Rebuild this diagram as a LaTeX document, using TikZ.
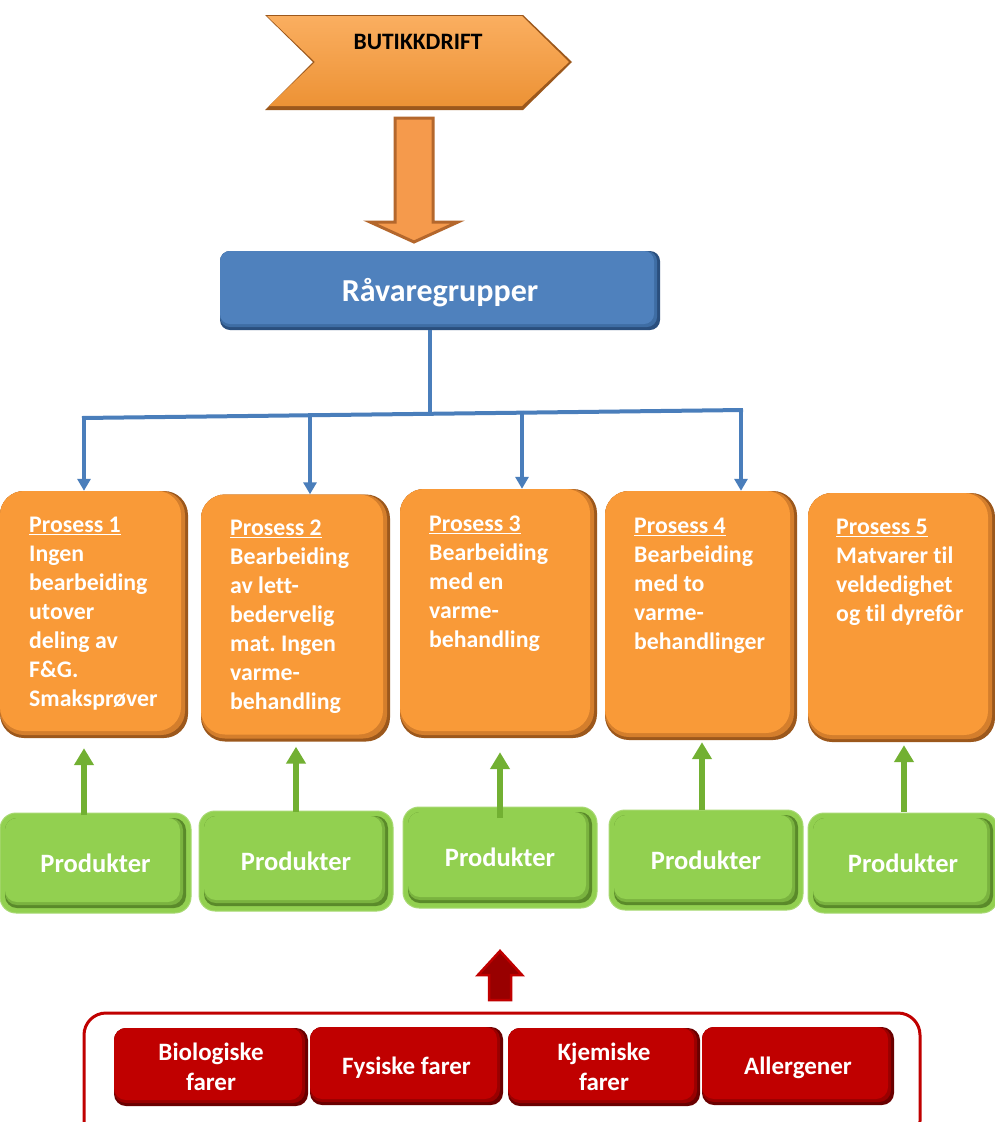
\documentclass[tikz,border=0pt]{standalone}
\usepackage{fontspec}
\setmainfont{Carlito}[Ligatures={NoCommon}]
\frenchspacing
\usetikzlibrary{arrows.meta}
\definecolor{orgmain}{HTML}{F99A38}
\definecolor{orgmid}{HTML}{D47E2C}
\definecolor{orgdark}{HTML}{9C581C}
\definecolor{bluemain}{HTML}{4F81BD}
\definecolor{bluemid}{HTML}{3E6DA4}
\definecolor{bluedark}{HTML}{2A4F7E}
\definecolor{bluel}{HTML}{4A7EBB}
\definecolor{grnmain}{HTML}{92D050}
\definecolor{grnmid}{HTML}{7AB33F}
\definecolor{grndark}{HTML}{5A8A2A}
\definecolor{grnarrow}{HTML}{72B032}
\definecolor{redmain}{HTML}{C00000}
\definecolor{redmid}{HTML}{990000}
\definecolor{reddark}{HTML}{6A0000}
\definecolor{arrfill}{HTML}{F59A4C}
\definecolor{arredge}{HTML}{B4672C}
\tikzset{
  bevel/.style n args={6}{rounded corners=#1, fill=#2, inner sep=0pt, draw=none,
    path picture={
      \fill[#3, rounded corners=#1] (path picture bounding box.north west) rectangle ([xshift=-#5,yshift=#5]path picture bounding box.south east);
      \fill[#4, rounded corners=#1] (path picture bounding box.north west) rectangle ([xshift=-#6,yshift=#6]path picture bounding box.south east);
    }},
  probox/.style={bevel={24}{orgdark}{orgmid}{orgmain}{3pt}{7pt}},
  protext/.style={anchor=north west, inner sep=0pt, text=white, align=left,
    font=\fontsize{23.8}{29}\selectfont\bfseries},
  gbox/.style={rounded corners=16, fill=grnmain, draw=grnmain!80!white, line width=1pt, inner sep=0pt,
    text=white, font=\fontsize{26.5}{30}\selectfont\bfseries,
    path picture={
      \fill[grndark, rounded corners=12] ([xshift=5pt,yshift=-5pt]path picture bounding box.north west) rectangle ([xshift=-5pt,yshift=5pt]path picture bounding box.south east);
      \fill[grnmid, rounded corners=12] ([xshift=5pt,yshift=-5pt]path picture bounding box.north west) rectangle ([xshift=-8pt,yshift=8pt]path picture bounding box.south east);
      \fill[grnmain, rounded corners=12] ([xshift=5pt,yshift=-5pt]path picture bounding box.north west) rectangle ([xshift=-11pt,yshift=11pt]path picture bounding box.south east);
    }},
  hzbox/.style={bevel={12}{reddark}{redmid}{redmain}{3pt}{6pt}, text=white, align=center,
    font=\fontsize{25}{30}\selectfont\bfseries, minimum height=78},
  bluearrow/.style={draw=bluel, line width=4pt, -{Triangle[width=13pt,length=12pt]}},
  blueline/.style={draw=bluel, line width=4pt},
  greenarrow/.style={draw=grnarrow, line width=6pt, -{Triangle[width=19pt,length=17pt]}},
}
\begin{document}
\begin{tikzpicture}[x=1pt,y=-1pt]
\useasboundingbox (0,0) rectangle (995,1122);
\clip (0,0) rectangle (995,1122);
\fill[white] (0,0) rectangle (995,1122);

% ---- top chevron ----
\fill[orgdark] (265,15) -- (523,15) -- (572,62) -- (523,110) -- (265,110) -- (313,62) -- cycle;
\shade[top color=orgmain!80!white, bottom color=orgmain!95!black]
  (267,16) -- (522,16) -- (569,62) -- (522,106) -- (269,106) -- (315,62) -- cycle;
\node[font=\fontsize{23.5}{26}\selectfont\bfseries, text=black, inner sep=0pt] (butikk) at (418,42) {BUTIKKDRIFT};

% ---- orange block arrow ----
\filldraw[fill=arrfill, draw=arredge, line width=3pt, line join=miter]
  (395,118) -- (433,118) -- (433,222) -- (458,222) -- (414,242) -- (370,222) -- (395,222) -- cycle;

% ---- Råvaregrupper ----
\node[bevel={10}{bluedark}{bluemid}{bluemain}{3pt}{6pt}, minimum width=440, minimum height=79,
  text=white, font=\fontsize{32}{36}\selectfont\bfseries] (rav) at (440,290.5) {\raisebox{-11pt}[0pt][0pt]{Råvaregrupper}};

% ---- process boxes ----
\node[probox, minimum width=188, minimum height=247] (p1) at (94,614.5) {};
\node[probox, minimum width=189, minimum height=247] (p2) at (295.5,618) {};
\node[probox, minimum width=197, minimum height=249] (p3) at (498.5,613.5) {};
\node[probox, minimum width=192, minimum height=249] (p4) at (701,615.5) {};
\node[probox, minimum width=187, minimum height=249] (p5) at (901.5,617.5) {};

\node[protext] (t1) at (29,517) {\underline{Prosess 1}\\Ingen\\bearbeiding\\utover\\deling av\\F\&G.\\Smaksprøver};
\node[protext] (t2) at (230,520) {\underline{Prosess 2}\\Bearbeiding\\av lett-\\bedervelig\\mat. Ingen\\varme-\\behandling};
\node[protext] (t3) at (429,516) {\underline{Prosess 3}\\Bearbeiding\\med en\\varme-\\behandling};
\node[protext] (t4) at (634,518) {\underline{Prosess 4}\\Bearbeiding\\med to\\varme-\\behandlinger};
\node[protext] (t5) at (836,519) {\underline{Prosess 5}\\Matvarer til\\veldedighet\\og til dyrefôr};

% ---- blue connectors ----
\coordinate (hub) at (430,414);
\coordinate (hl) at (84,418);
\coordinate (hr) at (741,410);
\coordinate (h2) at (310,415.2);
\coordinate (h3) at (522,412.7);
\draw[blueline] (rav.south -| hub) -- (hub);
\draw[blueline, line cap=butt] ([xshift=-2pt]hl) -- ([xshift=2pt]hr);
\draw[bluearrow] ([yshift=2pt]hl) -- (hl |- p1.north);
\draw[bluearrow] ([yshift=2pt]h2) -- (h2 |- p2.north);
\draw[bluearrow] ([yshift=2pt]h3) -- (h3 |- p3.north);
\draw[bluearrow] ([yshift=2pt]hr) -- (hr |- p4.north);

% ---- Produkter boxes ----
\node[gbox, minimum width=191, minimum height=100] (g1) at (95.5,863) {\raisebox{-3pt}{Produkter}};
\node[gbox, minimum width=194, minimum height=100] (g2) at (296,861) {\raisebox{-3pt}{Produkter}};
\node[gbox, minimum width=194, minimum height=101] (g3) at (500,857.5) {\raisebox{-3pt}{Produkter}};
\node[gbox, minimum width=194, minimum height=100] (g4) at (706,860) {\raisebox{-3pt}{Produkter}};
\node[gbox, minimum width=190, minimum height=100] (g5) at (903,863) {\raisebox{-3pt}{Produkter}};

% ---- green arrows ----
\coordinate (ga1) at (84,815);
\coordinate (ga2) at (296,812);
\coordinate (ga3) at (500,818);
\coordinate (ga4) at (702,810);
\coordinate (ga5) at (904,812);
\draw[greenarrow] (ga1) -- ([yshift=-10pt]ga1 |- p1.south);
\draw[greenarrow] (ga2) -- ([yshift=-5pt]ga2 |- p2.south);
\draw[greenarrow] (ga3) -- ([yshift=-14pt]ga3 |- p3.south);
\draw[greenarrow] (ga4) -- ([yshift=-2pt]ga4 |- p4.south);
\draw[greenarrow] (ga5) -- ([yshift=-3pt]ga5 |- p5.south);

% ---- red up arrow ----
\filldraw[fill=redmid, draw=redmain, line width=2.5pt, line join=miter]
  (489,1000) -- (489,975) -- (478,975) -- (500,951) -- (522,975) -- (511,975) -- (511,1000) -- cycle;

% ---- hazard frame ----
\node[draw=redmain, line width=3pt, fill=white, rounded corners=22, minimum width=836, minimum height=130, inner sep=0pt] (frame) at (502,1078) {};

\node[hzbox, minimum width=194] (hz1) at (211,1067) {Biologiske\\farer};
\node[hzbox, minimum width=193] (hz2) at (406.5,1066) {\raisebox{-8pt}[0pt][0pt]{Fysiske farer}};
\node[hzbox, minimum width=192] (hz3) at (604,1067) {Kjemiske\\farer};
\node[hzbox, minimum width=192] (hz4) at (798,1066) {\raisebox{-8pt}[0pt][0pt]{Allergener}};
\end{tikzpicture}
\end{document}
